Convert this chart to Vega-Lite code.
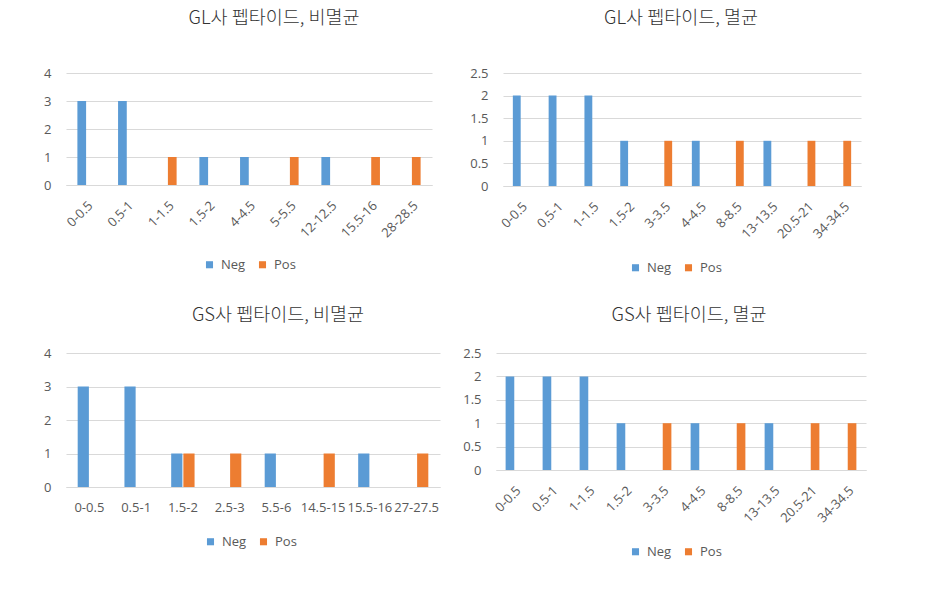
{
  "$schema": "https://vega.github.io/schema/vega-lite/v6.json",
  "background": "white",
  "padding": {"left": 43, "top": 8, "right": 5, "bottom": 5},
  "datasets": {
    "gl_nonsterile": [
      {"range": "0-0.5", "type": "Neg", "count": 3},
      {"range": "0.5-1", "type": "Neg", "count": 3},
      {"range": "1-1.5", "type": "Pos", "count": 1},
      {"range": "1.5-2", "type": "Neg", "count": 1},
      {"range": "4-4.5", "type": "Neg", "count": 1},
      {"range": "5-5.5", "type": "Pos", "count": 1},
      {"range": "12-12.5", "type": "Neg", "count": 1},
      {"range": "15.5-16", "type": "Pos", "count": 1},
      {"range": "28-28.5", "type": "Pos", "count": 1}
    ],
    "gl_sterile": [
      {"range": "0-0.5", "type": "Neg", "count": 2},
      {"range": "0.5-1", "type": "Neg", "count": 2},
      {"range": "1-1.5", "type": "Neg", "count": 2},
      {"range": "1.5-2", "type": "Neg", "count": 1},
      {"range": "3-3.5", "type": "Pos", "count": 1},
      {"range": "4-4.5", "type": "Neg", "count": 1},
      {"range": "8-8.5", "type": "Pos", "count": 1},
      {"range": "13-13.5", "type": "Neg", "count": 1},
      {"range": "20.5-21", "type": "Pos", "count": 1},
      {"range": "34-34.5", "type": "Pos", "count": 1}
    ],
    "gs_nonsterile": [
      {"range": "0-0.5", "type": "Neg", "count": 3},
      {"range": "0.5-1", "type": "Neg", "count": 3},
      {"range": "1.5-2", "type": "Neg", "count": 1},
      {"range": "1.5-2", "type": "Pos", "count": 1},
      {"range": "2.5-3", "type": "Pos", "count": 1},
      {"range": "5.5-6", "type": "Neg", "count": 1},
      {"range": "14.5-15", "type": "Pos", "count": 1},
      {"range": "15.5-16", "type": "Neg", "count": 1},
      {"range": "27-27.5", "type": "Pos", "count": 1}
    ],
    "gs_sterile": [
      {"range": "0-0.5", "type": "Neg", "count": 2},
      {"range": "0.5-1", "type": "Neg", "count": 2},
      {"range": "1-1.5", "type": "Neg", "count": 2},
      {"range": "1.5-2", "type": "Neg", "count": 1},
      {"range": "3-3.5", "type": "Pos", "count": 1},
      {"range": "4-4.5", "type": "Neg", "count": 1},
      {"range": "8-8.5", "type": "Pos", "count": 1},
      {"range": "13-13.5", "type": "Neg", "count": 1},
      {"range": "20.5-21", "type": "Pos", "count": 1},
      {"range": "34-34.5", "type": "Pos", "count": 1}
    ]
  },
  "bounds": "flush",
  "spacing": 280,
  "resolve": {"scale": {"x": "independent", "y": "independent", "color": "independent", "xOffset": "independent"}, "legend": {"color": "independent"}, "axis": {"x": "independent", "y": "independent"}},
  "vconcat": [
    {
      "bounds": "flush",
      "spacing": 71,
      "resolve": {"scale": {"x": "independent", "y": "independent", "color": "independent", "xOffset": "independent"}, "legend": {"color": "independent"}, "axis": {"x": "independent", "y": "independent"}},
      "hconcat": [
        {
          "width": 366, "height": 112,
          "data": {"name": "gl_nonsterile"},
          "title": {"text": "GL사 펩타이드, 비멸균", "dx": 25, "offset": 40},
          "mark": {"type": "bar"},
          "encoding": {
            "x": {"field": "range", "type": "nominal", "sort": null, "scale": {"paddingInner": 0.56, "paddingOuter": 0.28}, "axis": {"labelAngle": -45, "title": null}},
            "xOffset": {"field": "type", "type": "nominal", "scale": {"domain": ["Neg", "Pos"], "paddingInner": 0.05}},
            "y": {"field": "count", "type": "quantitative", "scale": {"domain": [0, 4], "nice": false}, "axis": {"values": [0, 1, 2, 3, 4], "title": null, "format": "~g"}},
            "color": {"field": "type", "type": "nominal", "scale": {"domain": ["Neg", "Pos"], "range": ["#5B9BD5", "#ED7D31"]}, "legend": {"orient": "none", "legendX": 137, "legendY": 185, "direction": "horizontal", "title": null}}
          }
        },
        {
          "width": 358, "height": 113,
          "data": {"name": "gl_sterile"},
          "title": {"text": "GL사 펩타이드, 멸균", "dx": -1, "offset": 40},
          "mark": {"type": "bar"},
          "encoding": {
            "x": {"field": "range", "type": "nominal", "sort": null, "scale": {"paddingInner": 0.55, "paddingOuter": 0.275}, "axis": {"labelAngle": -45, "title": null}},
            "xOffset": {"field": "type", "type": "nominal", "scale": {"domain": ["Neg", "Pos"], "paddingInner": 0.05}},
            "y": {"field": "count", "type": "quantitative", "scale": {"domain": [0, 2.5], "nice": false}, "axis": {"values": [0, 0.5, 1, 1.5, 2, 2.5], "title": null, "format": "~g"}},
            "color": {"field": "type", "type": "nominal", "scale": {"domain": ["Neg", "Pos"], "range": ["#5B9BD5", "#ED7D31"]}, "legend": {"orient": "none", "legendX": 126, "legendY": 188, "direction": "horizontal", "title": null}}
          }
        }
      ]
    },
    {
      "bounds": "flush",
      "spacing": 56,
      "resolve": {"scale": {"x": "independent", "y": "independent", "color": "independent", "xOffset": "independent"}, "legend": {"color": "independent"}, "axis": {"x": "independent", "y": "independent"}},
      "hconcat": [
        {
          "width": 374, "height": 134,
          "data": {"name": "gs_nonsterile"},
          "title": {"text": "GS사 펩타이드, 비멸균", "dx": 25, "offset": 23},
          "mark": {"type": "bar"},
          "encoding": {
            "x": {"field": "range", "type": "nominal", "sort": null, "scale": {"paddingInner": 0.5, "paddingOuter": 0.25}, "axis": {"labelAngle": 0, "labelOverlap": false, "labelPadding": 14, "title": null}},
            "xOffset": {"field": "type", "type": "nominal", "scale": {"domain": ["Neg", "Pos"], "paddingInner": 0.08}},
            "y": {"field": "count", "type": "quantitative", "scale": {"domain": [0, 4], "nice": false}, "axis": {"values": [0, 1, 2, 3, 4], "title": null, "format": "~g"}},
            "color": {"field": "type", "type": "nominal", "scale": {"domain": ["Neg", "Pos"], "range": ["#5B9BD5", "#ED7D31"]}, "legend": {"orient": "none", "legendX": 138, "legendY": 182, "direction": "horizontal", "title": null}}
          }
        },
        {
          "width": 370, "height": 117,
          "data": {"name": "gs_sterile"},
          "title": {"text": "GS사 펩타이드, 멸균", "dx": 8, "offset": 23},
          "mark": {"type": "bar"},
          "encoding": {
            "x": {"field": "range", "type": "nominal", "sort": null, "scale": {"paddingInner": 0.52, "paddingOuter": 0.26}, "axis": {"labelAngle": -45, "title": null}},
            "xOffset": {"field": "type", "type": "nominal", "scale": {"domain": ["Neg", "Pos"], "paddingInner": 0.05}},
            "y": {"field": "count", "type": "quantitative", "scale": {"domain": [0, 2.5], "nice": false}, "axis": {"values": [0, 0.5, 1, 1.5, 2, 2.5], "title": null, "format": "~g"}},
            "color": {"field": "type", "type": "nominal", "scale": {"domain": ["Neg", "Pos"], "range": ["#5B9BD5", "#ED7D31"]}, "legend": {"orient": "none", "legendX": 133, "legendY": 192, "direction": "horizontal", "title": null}}
          }
        }
      ]
    }
  ],
  "config": {
    "view": {"stroke": null},
    "axis": {"labelFont": "Open Sans", "labelFontSize": 13, "labelColor": "#595959", "ticks": false, "domain": false, "gridColor": "#D9D9D9", "gridWidth": 1},
    "axisX": {"domain": true, "domainColor": "#D9D9D9", "grid": false, "labelPadding": 14},
    "axisY": {"labelPadding": 15, "grid": true},
    "title": {"font": "Noto Sans CJK KR", "fontSize": 18.5, "fontWeight": 300, "color": "#333333", "frame": "group", "anchor": "middle"},
    "legend": {"labelFont": "Open Sans", "labelFontSize": 13, "labelColor": "#595959", "symbolType": "square", "symbolSize": 50, "symbolStrokeWidth": 0, "columnPadding": 10, "labelOffset": 5, "padding": 0}
  }
}
